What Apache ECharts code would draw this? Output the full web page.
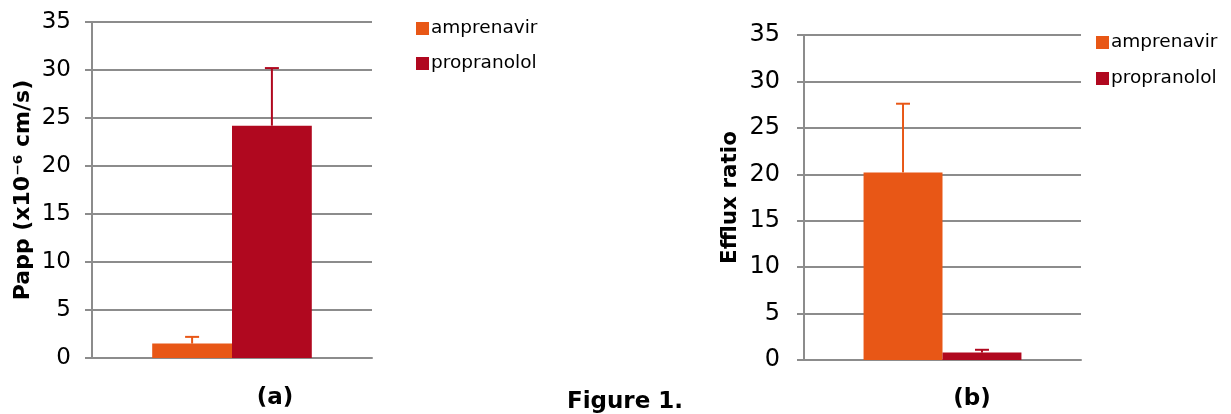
<!DOCTYPE html>
<html>
<head>
<meta charset="utf-8">
<script src="https://cdn.jsdelivr.net/npm/echarts@6/dist/echarts.min.js"></script>
<style>
  html, body { margin: 0; padding: 0; background: #fff; }
  #chart { width: 1231px; height: 414px; }
</style>
</head>
<body>
<div id="chart"></div>
<script>
// data
const seriesNames = ["amprenavir", "propranolol"];
const catA = ["a"];
const catB = ["b"];
// (a) Papp, x10^-6 cm/s
const pappMean = [1.5, 24.2];
const pappUpper = [2.2, 30.2];
// (b) efflux ratio
const effluxMean = [20.2, 0.8];
const effluxUpper = [27.6, 1.1];
const yTicks = [0, 5, 10, 15, 20, 25, 30, 35];

const colors = ["#E85716", "#B0081F"];
const gridColor = "#8c8c8c";
const catGap = 0.43;

const myChart = echarts.init(document.getElementById("chart"), null, { renderer: "canvas" });

function yAxisFor(gridIndex, name, nameGap, nameSize, fontSize, margin) {
  return {
    gridIndex: gridIndex,
    type: "value",
    min: yTicks[0],
    max: yTicks[yTicks.length - 1],
    interval: yTicks[1] - yTicks[0],
    name: name,
    nameLocation: "middle",
    nameGap: nameGap,
    nameTextStyle: {
      fontFamily: "DejaVu Sans",
      fontWeight: "bold",
      fontSize: nameSize,
      color: "#000",
    },
    axisLine: { show: true, lineStyle: { color: gridColor, width: 2 } },
    axisTick: { show: true, length: 7, lineStyle: { color: gridColor, width: 2 } },
    axisLabel: {
      fontFamily: "DejaVu Sans",
      fontSize: fontSize,
      color: "#000",
      margin: margin,
    },
    splitLine: { show: true, lineStyle: { color: gridColor, width: 2 } },
  };
}

function xAxisFor(gridIndex, data) {
  return {
    gridIndex: gridIndex,
    type: "category",
    data: data,
    axisLine: { show: true, lineStyle: { color: gridColor, width: 2 } },
    axisTick: { show: false },
    axisLabel: { show: false },
  };
}

function barSeries(idx, axisIdx, values) {
  return {
    name: seriesNames[idx],
    type: "bar",
    xAxisIndex: axisIdx,
    yAxisIndex: axisIdx,
    data: [values[idx]],
    barGap: "0%",
    barCategoryGap: catGap * 100 + "%",
    itemStyle: { color: colors[idx] },
    z: 2,
  };
}

function errorSeries(idx, axisIdx, means, uppers) {
  return {
    name: seriesNames[idx],
    type: "custom",
    xAxisIndex: axisIdx,
    yAxisIndex: axisIdx,
    data: [[0, means[idx], uppers[idx]]],
    z: 3,
    renderItem: function (params, api) {
      const band = api.size([1, 0])[0];
      const barW = (band * (1 - catGap)) / 2;
      const offset = idx === 0 ? -barW / 2 : barW / 2;
      const low = api.coord([api.value(0), api.value(1)]);
      const high = api.coord([api.value(0), api.value(2)]);
      const x = low[0] + offset;
      const cap = 7;
      const style = { stroke: colors[idx], lineWidth: 2 };
      return {
        type: "group",
        children: [
          { type: "line", shape: { x1: x, y1: low[1], x2: x, y2: high[1] }, style: style },
          { type: "line", shape: { x1: x - cap, y1: high[1], x2: x + cap, y2: high[1] }, style: style },
        ],
      };
    },
  };
}

function legendFor(left, top, gap) {
  return {
    left: left,
    top: top,
    orient: "vertical",
    data: seriesNames.map((n, i) => ({ name: n, icon: "rect", itemStyle: { color: colors[i] } })),
    itemWidth: 13,
    itemHeight: 13,
    itemGap: gap,
    selectedMode: false,
    textStyle: { fontFamily: "DejaVu Sans", fontSize: 18.5, color: "#000", padding: [0, 0, 0, -3] },
  };
}

const captionStyle = { fontFamily: "DejaVu Sans", fontWeight: "bold", fontSize: 23, color: "#000" };

myChart.setOption({
  animation: false,
  backgroundColor: "#fff",
  title: [
    { text: "(a)", left: 270, top: 382, textAlign: "center", textStyle: captionStyle },
    { text: "Figure 1.", left: 620, top: 386, textAlign: "center", textStyle: captionStyle },
    { text: "(b)", left: 967, top: 383, textAlign: "center", textStyle: captionStyle },
  ],
  legend: [legendFor(411, 14, 16), legendFor(1091, 28, 17)],
  grid: [
    { left: 92, top: 22, width: 280, height: 336, containLabel: false },
    { left: 804, top: 35, width: 277, height: 325, containLabel: false },
  ],
  xAxis: [xAxisFor(0, catA), xAxisFor(1, catB)],
  yAxis: [
    yAxisFor(0, "Papp (x10\u207B\u2076 cm/s)", 58, 22, 23, 21),
    yAxisFor(1, "Efflux ratio", 63, 21.5, 24, 24),
  ],
  series: [
    barSeries(0, 0, pappMean),
    barSeries(1, 0, pappMean),
    errorSeries(0, 0, pappMean, pappUpper),
    errorSeries(1, 0, pappMean, pappUpper),
    barSeries(0, 1, effluxMean),
    barSeries(1, 1, effluxMean),
    errorSeries(0, 1, effluxMean, effluxUpper),
    errorSeries(1, 1, effluxMean, effluxUpper),
  ],
});

window.addEventListener("resize", () => myChart.resize());
</script>
</body>
</html>
